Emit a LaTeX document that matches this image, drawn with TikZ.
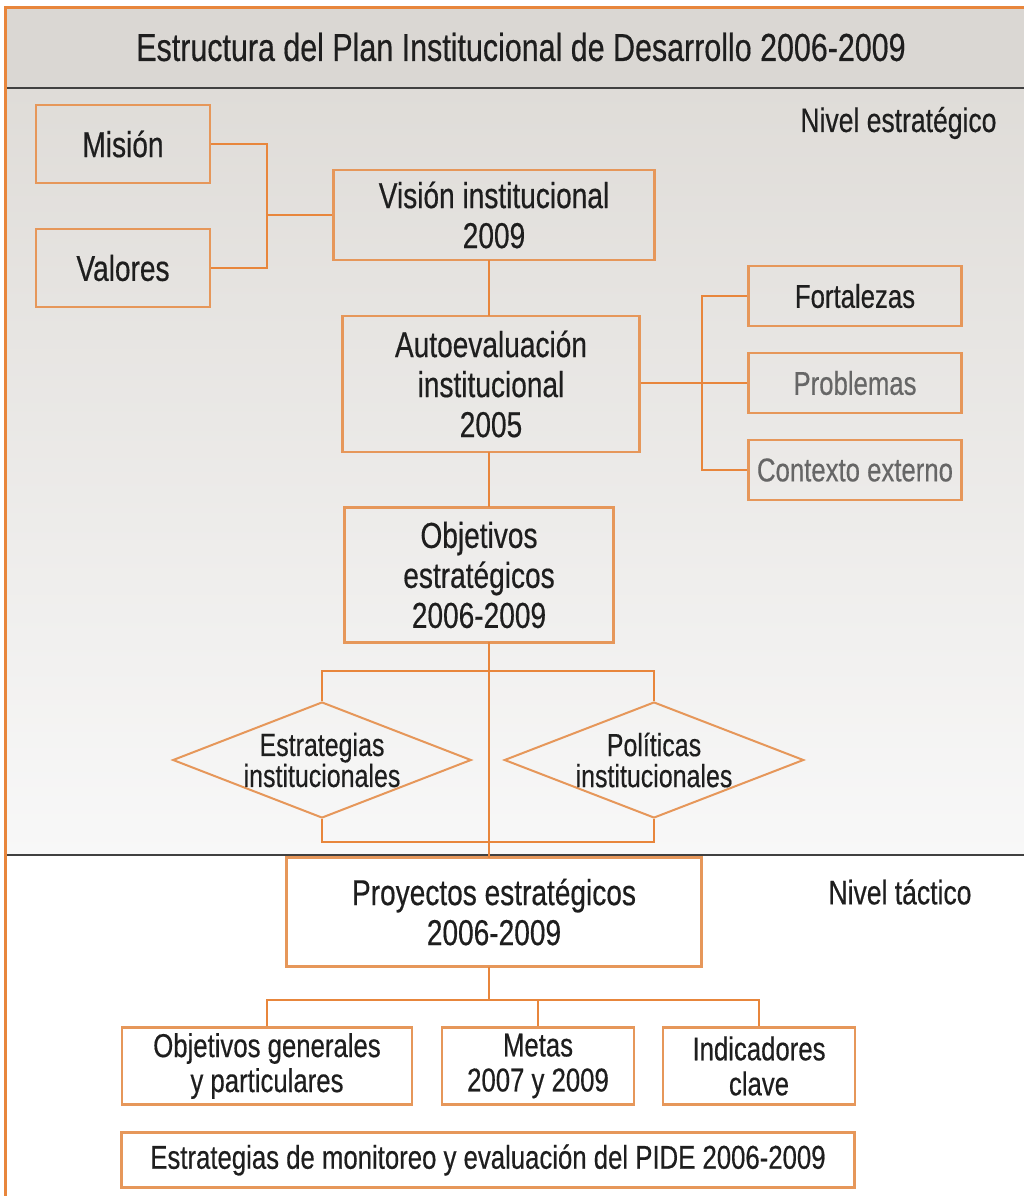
\documentclass[tikz,border=0pt]{standalone}
\usepackage{fontspec}
\setmainfont[FakeStretch=0.78, FakeBold=0.4]{Liberation Sans}
\usetikzlibrary{shapes.geometric}
\definecolor{frameor}{HTML}{E8863C}
\definecolor{boxor}{HTML}{E6975A}
\definecolor{headgray}{HTML}{DAD7D3}
\definecolor{bgtop}{HTML}{DFDCD8}
\definecolor{bgbot}{HTML}{F8F8F8}
\definecolor{txt}{HTML}{1E1E1E}
\definecolor{txtgray}{HTML}{666666}
\tikzset{
  box/.style={draw=boxor, line width=2.4pt, text=txt, align=center, inner sep=0pt,
              font=\fontsize{36}{40}\selectfont},
  sidebox/.style={box, font=\fontsize{33}{36}\selectfont},
  smallbox/.style={box, font=\fontsize{33}{35}\selectfont},
  dia/.style={draw=boxor, line width=2pt, diamond, aspect=2.6, inner sep=0pt, text=txt, align=center,
              font=\fontsize{32}{31}\selectfont},
  link/.style={draw=frameor, line width=2.2pt},
  level/.style={text=txt, font=\fontsize{34}{36}\selectfont, anchor=east},
  sepline/.style={draw=black!75, line width=2pt}
}
\begin{document}
\begin{tikzpicture}[x=1pt, y=-1pt]
\useasboundingbox (0,0) rectangle (1024,1196);
\fill[white] (0,0) rectangle (1024,1196);
% header band and strategic-level background
\fill[headgray] (5,8) rectangle (1024,88);
\shade[top color=bgtop, bottom color=bgbot] (5,88) rectangle (1024,855);
\draw[sepline] (5,88) -- (1024,88);
\draw[sepline] (5,855) -- (1024,855);
% outer frame
\draw[frameor, line width=3pt] (5,1196) -- (5,8) -- (1024,8);

\node[text=txt, font=\fontsize{39}{42}\selectfont] (title) at (521,47)
  {Estructura del Plan Institucional de Desarrollo 2006-2009};
\node[level] (nest) at (1000,123) {Nivel estratégico};
\node[level] (ntac) at (975,892) {Nivel táctico};

% strategic level
\node[box, minimum width=174, minimum height=78] (mision) at (123,144) {Misión};
\node[box, minimum width=174, minimum height=78] (valores) at (123,268) {Valores};
\node[box, minimum width=321, minimum height=90] (vision) at (494,215) {Visión institucional\\2009};
\node[box, minimum width=297, minimum height=136] (auto) at (491,384) {Autoevaluación\\institucional\\2005};
\node[sidebox, minimum width=213, minimum height=60] (fort) at (855,296) {Fortalezas};
\node[sidebox, minimum width=213, minimum height=60, text=txtgray] (prob) at (855,383) {Problemas};
\node[sidebox, minimum width=213, minimum height=60, text=txtgray] (ctx) at (855,470) {Contexto externo};
\node[box, minimum width=269, minimum height=135] (obj) at (479,575) {Objetivos\\estratégicos\\2006-2009};
\node[dia, minimum width=294, minimum height=116] (estr) at (322,760) {Estrategias\\institucionales};
\node[dia, minimum width=287, minimum height=116] (pol) at (654,760) {Políticas\\institucionales};

% tactical level
\node[box, minimum width=415, minimum height=109] (proy) at (494,912) {Proyectos estratégicos\\2006-2009};
\node[smallbox, minimum width=290, minimum height=77] (objg) at (267,1066) {Objetivos generales\\y particulares};
\node[smallbox, minimum width=192, minimum height=77] (metas) at (538,1066) {Metas\\2007 y 2009};
\node[smallbox, minimum width=192, minimum height=77] (ind) at (759,1066) {Indicadores\\clave};
\node[smallbox, minimum width=733, minimum height=55] (mon) at (488,1160) {Estrategias de monitoreo y evaluación del PIDE 2006-2009};

% connectors
\coordinate (j1) at (267,215);
\draw[link] (mision.east) -| (j1) |- (valores.east);
\draw[link] (j1) -- (vision.west);
\draw[link] (489,260) -- (489,316);
\coordinate (j2) at (702,383);
\draw[link] (auto.east |- j2) -- (prob.west);
\draw[link] (fort.west) -| (j2) |- (ctx.west);
\draw[link] (489,452) -- (489,507);
\draw[link] (489,642) -- (489,858);
\draw[link] (estr.north) -- ++(0,-30) -| (pol.north);
\draw[link] (estr.south) -- ++(0,23) -| (pol.south);
\coordinate (j3) at (489,1000);
\draw[link] (489,967) -- (j3);
\draw[link] (objg.north) |- (j3) -| (ind.north);
\draw[link] (metas.north) -- (metas.north |- j3);
\end{tikzpicture}
\end{document}
